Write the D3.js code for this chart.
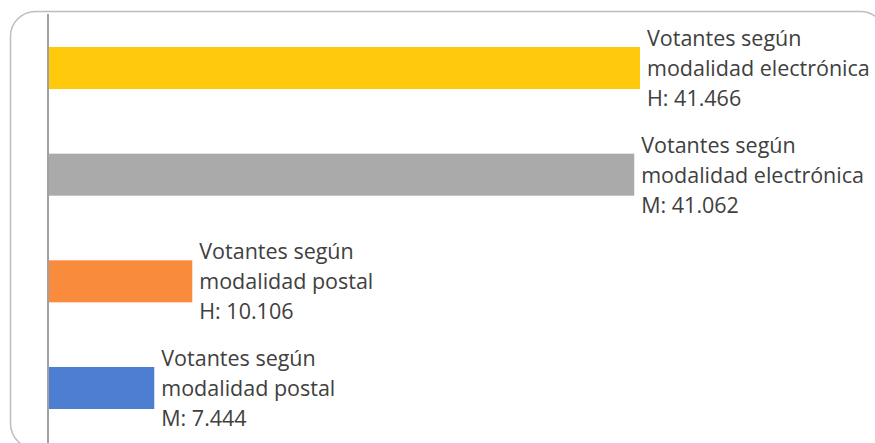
<!DOCTYPE html>
<html>
<head>
<meta charset="utf-8">
<script src="https://cdn.jsdelivr.net/npm/d3@7"></script>
<style>
  body { margin: 0; background: #fff; }
</style>
</head>
<body>
<script>
var categories = ['Votantes según modalidad electrónica H', 'Votantes según modalidad electrónica M',
    'Votantes según modalidad postal H', 'Votantes según modalidad postal M'];
var values = [41466, 41062, 10106, 7444];
var labelLines = [
    ['Votantes según', 'modalidad electrónica', 'H: 41.466'],
    ['Votantes según', 'modalidad electrónica', 'M: 41.062'],
    ['Votantes según', 'modalidad postal', 'H: 10.106'],
    ['Votantes según', 'modalidad postal', 'M: 7.444']
];
var colors = ['#ffc90b', '#aaaaaa', '#f98b3d', '#4d7ed2'];

var width = 875;
var height = 443;

var svg = d3.select('body')
    .append('svg')
    .attr('width', width)
    .attr('height', height);

// outer frame, runs off the right and bottom edge
svg.append('rect')
    .attr('x', 10.5)
    .attr('y', 11.5)
    .attr('width', 875)
    .attr('height', 437)
    .attr('rx', 25)
    .attr('fill', 'none')
    .attr('stroke', '#bdbdbd')
    .attr('stroke-width', 1.5);

var x = d3.scaleLinear()
    .domain([0, 50000])
    .range([48, 48 + 50000 * 592 / 41466]);

var y = d3.scaleBand()
    .domain(categories)
    .range([15, 441])
    .paddingInner(0.606)
    .paddingOuter(0.3);

svg.selectAll('.bar')
    .data(values)
    .enter()
    .append('rect')
    .attr('class', 'bar')
    .attr('x', x(0))
    .attr('y', function (d, i) { return y(categories[i]); })
    .attr('width', function (d) { return x(d) - x(0); })
    .attr('height', y.bandwidth())
    .attr('fill', function (d, i) { return colors[i]; });

// vertical category axis line
svg.append('line')
    .attr('x1', x(0))
    .attr('x2', x(0))
    .attr('y1', 14)
    .attr('y2', height)
    .attr('stroke', '#a0a0a0')
    .attr('stroke-width', 2);

var labels = svg.selectAll('.label')
    .data(values)
    .enter()
    .append('text')
    .attr('class', 'label')
    .attr('font-family', 'Open Sans, sans-serif')
    .attr('font-size', 21.5)
    .attr('fill', '#404040');

labels.each(function (d, i) {
    var cy = y(categories[i]) + y.bandwidth() / 2;
    var t = d3.select(this);
    labelLines[i].forEach(function (line, k) {
        t.append('tspan')
            .attr('x', x(d) + 7)
            .attr('y', cy + 8 + (k - 1) * 30)
            .text(line);
    });
});
</script>
</body>
</html>
